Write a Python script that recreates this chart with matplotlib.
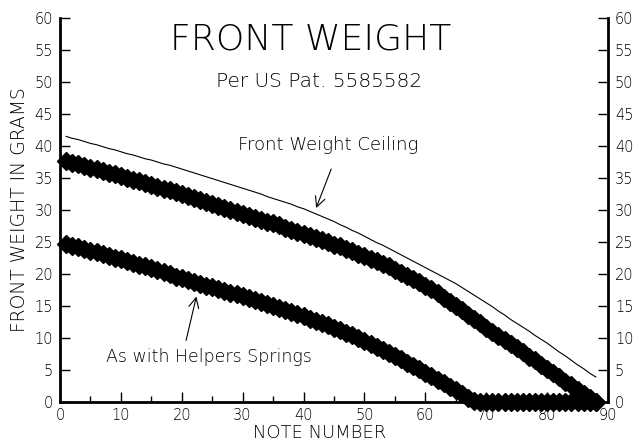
import numpy as np
import matplotlib
matplotlib.use("Agg")
import matplotlib.pyplot as plt
from matplotlib.ticker import MultipleLocator

# note numbers 1..88
notes = list(range(1, 89))

# front weight ceiling (thin line)
ceiling = [41.5, 41.2, 41.0, 40.7, 40.4, 40.2, 39.9, 39.6, 39.4, 39.1,
           38.8, 38.6, 38.3, 38.0, 37.8, 37.5, 37.2, 37.0, 36.7, 36.4,
           36.1, 35.8, 35.5, 35.2, 34.9, 34.6, 34.3, 34.0, 33.7, 33.4,
           33.1, 32.8, 32.5, 32.1, 31.8, 31.5, 31.2, 30.9, 30.5, 30.2,
           29.8, 29.4, 29.0, 28.6, 28.2, 27.7, 27.3, 26.8, 26.4, 25.9,
           25.4, 24.9, 24.5, 24.0, 23.5, 23.0, 22.5, 22.0, 21.5, 21.0,
           20.5, 20.0, 19.5, 19.0, 18.5, 17.9, 17.3, 16.7, 16.1, 15.5,
           14.9, 14.2, 13.6, 12.9, 12.3, 11.7, 11.1, 10.4, 9.8, 9.2,
           8.5, 7.8, 7.2, 6.5, 5.8, 5.2, 4.5, 3.9]

# front weight (upper diamonds)
front_weight = [37.7, 37.4, 37.2, 36.9, 36.6, 36.4, 36.1, 35.8, 35.6, 35.3,
                35.0, 34.7, 34.5, 34.2, 33.9, 33.6, 33.3, 33.1, 32.8, 32.5,
                32.2, 31.9, 31.6, 31.3, 31.0, 30.6, 30.3, 30.0, 29.7, 29.4,
                29.1, 28.8, 28.5, 28.2, 27.9, 27.6, 27.2, 26.9, 26.6, 26.3,
                26.0, 25.6, 25.3, 25.0, 24.6, 24.3, 23.9, 23.6, 23.2, 22.8,
                22.4, 22.0, 21.6, 21.2, 20.7, 20.2, 19.7, 19.2, 18.7, 18.2,
                17.6, 17.0, 16.3, 15.7, 15.0, 14.3, 13.6, 13.0, 12.3, 11.6,
                11.0, 10.3, 9.7, 9.0, 8.4, 7.8, 7.1, 6.5, 5.8, 5.2,
                4.5, 3.9, 3.2, 2.6, 1.9, 1.3, 0.6, 0.0]

# as with helper springs (lower diamonds)
helper_springs = [24.7, 24.4, 24.2, 23.9, 23.6, 23.4, 23.1, 22.8, 22.5, 22.3,
                  22.0, 21.7, 21.4, 21.2, 20.9, 20.6, 20.3, 20.0, 19.6, 19.3,
                  19.0, 18.7, 18.4, 18.2, 17.9, 17.6, 17.3, 17.1, 16.8, 16.5,
                  16.2, 15.9, 15.6, 15.3, 15.0, 14.7, 14.4, 14.1, 13.7, 13.4,
                  13.0, 12.7, 12.3, 12.0, 11.6, 11.2, 10.8, 10.4, 10.0, 9.6,
                  9.1, 8.6, 8.1, 7.7, 7.2, 6.7, 6.1, 5.6, 5.1, 4.6,
                  4.0, 3.5, 2.9, 2.4, 1.8, 1.2, 0.7, 0.2, 0.0, 0.0,
                  0.0, 0.0, 0.0, 0.0, 0.0, 0.0, 0.0, 0.0, 0.0, 0.0,
                  0.0, 0.0, 0.0, 0.0, 0.0, 0.0, 0.0, 0.0]

plt.rcParams["font.family"] = ["DejaVu Sans"]
plt.rcParams["font.weight"] = "light"   # thin strokes like the original plotter font
plt.rcParams["axes.labelweight"] = "light"

fig = plt.figure(figsize=(6.35, 4.42), dpi=100)
ax = fig.add_axes([0.0945, 0.0905, 0.863, 0.8688])

ax.plot(notes, ceiling, color="black", lw=0.8)
ax.plot(notes, front_weight, color="black", lw=0, marker="D", ms=9, clip_on=False)
ax.plot(notes, helper_springs, color="black", lw=0, marker="D", ms=9, clip_on=False)

ax.set_xlim(0, 90)
ax.set_ylim(0, 60)
ax.spines["top"].set_visible(False)
for s in ["left", "right", "bottom"]:
    ax.spines[s].set_linewidth(2)

ax.xaxis.set_major_locator(MultipleLocator(10))
ax.xaxis.set_minor_locator(MultipleLocator(5))
ax.yaxis.set_major_locator(MultipleLocator(5))
ax.tick_params(axis="x", which="major", direction="in", length=7, width=1, labelsize=10.5,
               pad=4, labelcolor="black")
ax.tick_params(axis="x", which="minor", direction="in", length=4, width=1)
ax.tick_params(axis="y", which="major", direction="in", length=7, width=1, labelsize=10.5,
               pad=5, right=True, labelright=True, labelcolor="black")

ax.set_xlabel("NOTE NUMBER", fontsize=13)
ax.xaxis.set_label_coords(0.474, -0.056)
ax.set_ylabel("FRONT WEIGHT IN GRAMS", fontsize=13.5, labelpad=4)

ax.text(41.2, 56.6, "FRONT WEIGHT", fontsize=26, ha="center", va="center")
ax.text(42.6, 50.0, "Per US Pat. 5585582", fontsize=14.5, ha="center", va="center")
ax.text(44.1, 40.2, "Front Weight Ceiling", fontsize=13, ha="center", va="center")
ax.text(24.4, 7.0, "As with Helpers Springs", fontsize=12.5, ha="center", va="center")

ax.annotate("", xy=(41.9, 29.9), xytext=(44.7, 36.8),
            arrowprops=dict(arrowstyle="->", color="black", lw=0.8, mutation_scale=18))
ax.annotate("", xy=(22.5, 16.9), xytext=(20.6, 9.2),
            arrowprops=dict(arrowstyle="->", color="black", lw=0.8, mutation_scale=18))

fig.savefig("out.png", dpi=100)
